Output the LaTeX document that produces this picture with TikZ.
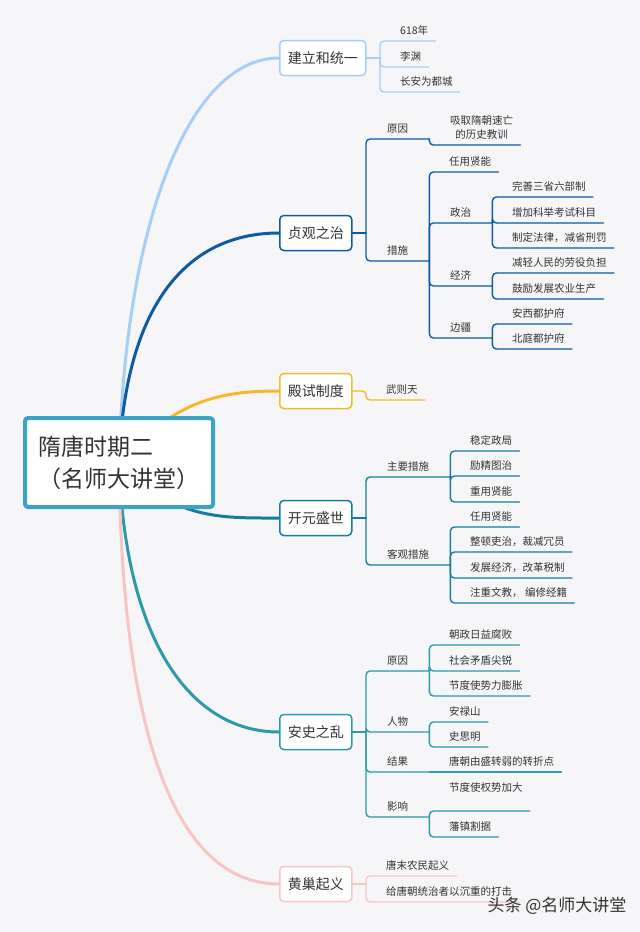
\documentclass[tikz,border=0pt]{standalone}
\usepackage{fontspec}
\setmainfont{Noto Sans CJK SC}
\usetikzlibrary{backgrounds}
\definecolor{bgc}{HTML}{F6F6F8}
\definecolor{txtc}{HTML}{333333}
\definecolor{rootc}{HTML}{3BA2C8}
\definecolor{c1}{HTML}{A7CEF5}
\definecolor{c2}{HTML}{0E5BA3}
\definecolor{c3}{HTML}{F5B92B}
\definecolor{c4}{HTML}{167E9C}
\definecolor{c5}{HTML}{2C9BA8}
\definecolor{c6}{HTML}{F8C5C5}
\begin{document}
\begin{tikzpicture}[x=1pt, y=-1pt, line join=round, line cap=round,
    txt/.style={text=txtc, font=\fontsize{10.5}{14}\selectfont, text height=8pt, text depth=2pt, inner ysep=4pt},
    leaf/.style={txt, anchor=south west, inner xsep=7pt},
    mid/.style={txt, anchor=south west, inner xsep=0pt, minimum width=#1},
    topic/.style={draw=#1, fill=white, line width=1.5pt, rounded corners=4pt, anchor=west, minimum height=35pt, inner xsep=8pt, font=\fontsize{14}{16}\selectfont, text=txtc},
    branch/.style={draw=#1, line width=3pt},
    link/.style={draw=#1, line width=1.4pt, rounded corners=4pt}]
    \useasboundingbox (0,0) rectangle (640,932);
    \node[draw=rootc, line width=4pt, fill=white, rounded corners=3pt, minimum width=188pt, minimum height=89pt, align=left, font=\fontsize{23}{32}\selectfont, text=txtc] (root) at (119,462.5) {隋唐时期二\\（名师大讲堂）};
    \node[topic=c1] (jl) at (279,58) {建立和统一};
    \node[topic=c2] (zg) at (279,233) {贞观之治};
    \node[topic=c3] (ds) at (279,391) {殿试制度};
    \node[topic=c4] (ky) at (279,518) {开元盛世};
    \node[topic=c5] (as) at (279,732) {安史之乱};
    \node[topic=c6] (hc) at (279,884) {黄巢起义};
    \begin{scope}[on background layer]
        \fill[bgc] (0,0) rectangle (640,932);
        \draw[branch=c1] (root.center) .. controls (125,220) and (190,58) .. (jl.west);
        \draw[branch=c2] (root.center) .. controls (125,300) and (190,233) .. (zg.west);
        \draw[branch=c3] (root.center) .. controls (175,400) and (220,391) .. (ds.west);
        \draw[branch=c4] (root.center) .. controls (175,520) and (220,518) .. (ky.west);
        \draw[branch=c5] (root.center) .. controls (125,640) and (190,732) .. (as.west);
        \draw[branch=c6] (root.center) .. controls (122,760) and (185,884) .. (hc.west);
    \end{scope}
    % 建立和统一
    \coordinate (jlb) at (380,58);
    \node[leaf] (jl1) at (393,41) {618年};
    \node[leaf] (jl2) at (393,67) {李渊};
    \node[leaf] (jl3) at (393,92) {长安为都城};
    \draw[link=c1] (jl) -- (jlb);
    \foreach \n in {jl1,jl2,jl3}
        \draw[link=c1] (jlb) |- (\n.south east);
    % 贞观之治
    \coordinate (zgb) at (366,233);
    \node[mid=63pt] (zg1) at (366,139) {原因};
    \node[mid=63pt] (zg2) at (366,261) {措施};
    \node[leaf, align=center, text height=22pt] (zg11) at (443,145) {吸取隋朝速亡\\的历史教训};
    \node[leaf] (zg21) at (442,172) {任用贤能};
    \node[mid=63pt] (zg22) at (429,223) {政治};
    \node[mid=63pt] (zg23) at (429,286) {经济};
    \node[mid=63pt] (zg24) at (429,338) {边疆};
    \node[leaf] (zg221) at (505,197) {完善三省六部制};
    \node[leaf] (zg222) at (505,223) {增加科举考试科目};
    \node[leaf] (zg223) at (505,248) {制定法律，减省刑罚};
    \node[leaf] (zg231) at (505,273) {减轻人民的劳役负担};
    \node[leaf] (zg232) at (505,299) {鼓励发展农业生产};
    \node[leaf] (zg241) at (505,324) {安西都护府};
    \node[leaf] (zg242) at (505,349) {北庭都护府};
    \draw[link=c2] (zg) -- (zgb);
    \foreach \n in {zg1,zg2}
        \draw[link=c2] (zgb) |- (\n.south east);
    \draw[link=c2] (zg1.south east) |- (zg11.south east);
    \foreach \n in {zg21,zg22,zg23,zg24}
        \draw[link=c2] (zg2.south east) |- (\n.south east);
    \foreach \n in {zg221,zg222,zg223}
        \draw[link=c2] (zg22.south east) |- (\n.south east);
    \foreach \n in {zg231,zg232}
        \draw[link=c2] (zg23.south east) |- (\n.south east);
    \foreach \n in {zg241,zg242}
        \draw[link=c2] (zg24.south east) |- (\n.south east);
    % 殿试制度
    \coordinate (dsb) at (366,391);
    \node[leaf] (ds1) at (379,400) {武则天};
    \draw[link=c3] (ds) -- (dsb) |- (ds1.south east);
    % 开元盛世
    \coordinate (kyb) at (366,518);
    \node[mid=84pt] (ky1) at (366,477) {主要措施};
    \node[mid=84pt] (ky2) at (366,565) {客观措施};
    \node[leaf] (ky11) at (463,451) {稳定政局};
    \node[leaf] (ky12) at (463,476) {励精图治};
    \node[leaf] (ky13) at (463,502) {重用贤能};
    \node[leaf] (ky21) at (463,527) {任用贤能};
    \node[leaf] (ky22) at (463,552) {整顿吏治，裁减冗员};
    \node[leaf] (ky23) at (463,578) {发展经济，改革税制};
    \node[leaf] (ky24) at (463,603) {注重文教， 编修经籍};
    \draw[link=c4] (ky) -- (kyb);
    \foreach \n in {ky1,ky2}
        \draw[link=c4] (kyb) |- (\n.south east);
    \foreach \n in {ky11,ky12,ky13}
        \draw[link=c4] (ky1.south east) |- (\n.south east);
    \foreach \n in {ky21,ky22,ky23,ky24}
        \draw[link=c4] (ky2.south east) |- (\n.south east);
    % 安史之乱
    \coordinate (asb) at (366,732);
    \node[mid=63pt] (as1) at (366,671) {原因};
    \node[mid=63pt] (as2) at (366,732) {人物};
    \node[mid=63pt] (as3) at (366,772) {结果};
    \node[mid=63pt] (as4) at (366,817) {影响};
    \node[leaf] (as11) at (442,645) {朝政日益腐败};
    \node[leaf] (as12) at (442,671) {社会矛盾尖锐};
    \node[leaf] (as13) at (442,696) {节度使势力膨胀};
    \node[leaf] (as21) at (442,722) {安禄山};
    \node[leaf] (as22) at (442,747) {史思明};
    \node[leaf] (as31) at (442,772) {唐朝由盛转弱的转折点};
    \node[leaf, text depth=15pt] (as41) at (442,811) {节度使权势加大};
    \node[leaf] (as42) at (442,837) {藩镇割据};
    \draw[link=c5] (as) -- (asb);
    \foreach \n in {as1,as2,as3,as4}
        \draw[link=c5] (asb) |- (\n.south east);
    \foreach \n in {as11,as12,as13}
        \draw[link=c5] (as1.south east) |- (\n.south east);
    \foreach \n in {as21,as22}
        \draw[link=c5] (as2.south east) |- (\n.south east);
    \draw[link=c5] (as3.south east) -- (as31.south east);
    \foreach \n in {as41,as42}
        \draw[link=c5] (as4.south east) |- (\n.south east);
    % 黄巢起义
    \coordinate (hcb) at (366,884);
    \node[leaf] (hc1) at (379,876) {唐末农民起义};
    \node[leaf] (hc2) at (379,902) {给唐朝统治者以沉重的打击};
    \draw[link=c6] (hc) -- (hcb);
    \foreach \n in {hc1,hc2}
        \draw[link=c6] (hcb) |- (\n.south east);
    \node[font=\fontsize{17}{17}\selectfont, text=black!80] (wm) at (557,906) {头条 @名师大讲堂};
\end{tikzpicture}
\end{document}
